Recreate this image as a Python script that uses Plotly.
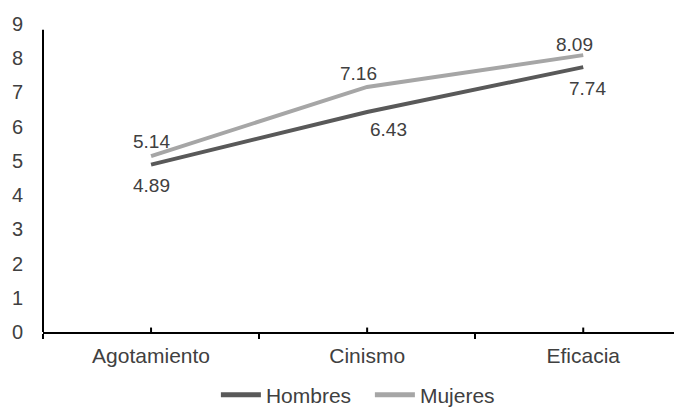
import plotly.graph_objects as go

categories = ["Agotamiento", "Cinismo", "Eficacia"]
hombres = [4.89, 6.43, 7.74]
mujeres = [5.14, 7.16, 8.09]
y_ticks = list(range(0, 10))

DARK = "#595959"
LIGHT = "#a6a6a6"
TEXT = "#404040"
FONT = "Liberation Sans, Arial, sans-serif"

fig = go.Figure()
fig.add_trace(go.Scatter(x=categories, y=hombres, mode="lines", name="Hombres",
                         line=dict(color=DARK, width=4)))
fig.add_trace(go.Scatter(x=categories, y=mujeres, mode="lines", name="Mujeres",
                         line=dict(color=LIGHT, width=4)))

# value labels: women above the line, men below
mujeres_shift = [(0, 15), (-9, 13), (-9, 11)]
hombres_shift = [(0, -21), (21, -18), (4, -21)]
for cat, v, (dx, dy) in zip(categories, mujeres, mujeres_shift):
    fig.add_annotation(x=cat, y=v, text=f"{v:.2f}", showarrow=False,
                       xshift=dx, yshift=dy, font=dict(size=19, color=TEXT, family=FONT))
for cat, v, (dx, dy) in zip(categories, hombres, hombres_shift):
    fig.add_annotation(x=cat, y=v, text=f"{v:.2f}", showarrow=False,
                       xshift=dx, yshift=dy, font=dict(size=19, color=TEXT, family=FONT))

# vertical axis line (slightly below zero, stopping short of the top label)
fig.add_shape(type="line", xref="paper", yref="y", x0=0, x1=0, y0=-0.15, y1=8.83,
              line=dict(color="black", width=2))
# small inward tick marks at each category
for i, _ in enumerate(categories):
    fig.add_shape(type="line", xref="x", yref="y", x0=i, x1=i, y0=0, y1=0.13,
                  line=dict(color="black", width=2))

fig.update_layout(
    width=674, height=409,
    margin=dict(l=43, r=0, t=24, b=77, autoexpand=False),
    paper_bgcolor="white", plot_bgcolor="white",
    font=dict(family=FONT, size=20, color=TEXT),
    showlegend=True,
    legend=dict(orientation="h", x=0.274, xanchor="left", y=-0.205, yanchor="middle",
                font=dict(size=21, color=TEXT, family=FONT),
                itemwidth=40, tracegroupgap=0, itemsizing="constant",
                entrywidth=99, bgcolor="rgba(0,0,0,0)"),
    xaxis=dict(type="category", range=[-0.5, 2.42], showgrid=False,
               showline=True, linecolor="black", linewidth=2,
               ticks="outside", tickson="boundaries", ticklen=5, tickwidth=2,
               tickcolor="black", tickfont=dict(size=21, color=TEXT, family=FONT),
               ticklabelstandoff=4, zeroline=False),
    yaxis=dict(range=[0, 9], tickvals=y_ticks, showgrid=False, showline=False,
               zeroline=False, ticks="", ticklabelstandoff=19,
               tickfont=dict(size=20, color=TEXT, family=FONT)),
)

fig.write_html("out.html")
